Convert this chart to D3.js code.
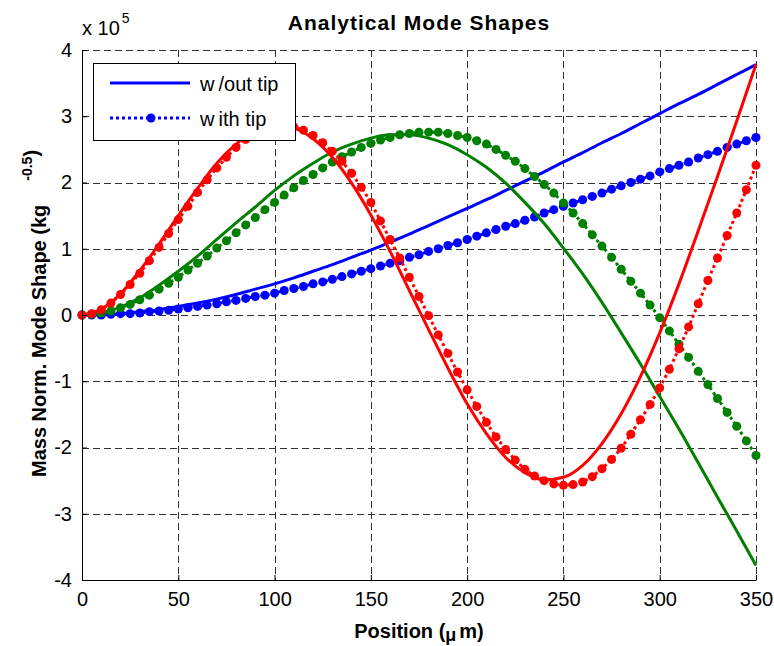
<!DOCTYPE html>
<html>
<head>
<meta charset="utf-8">
<script src="https://cdnjs.cloudflare.com/ajax/libs/d3/7.8.5/d3.min.js"></script>
<style>
  body { margin: 0; background: #fff; }
  svg { display: block; font-family: Arial, "Liberation Sans", Helvetica, sans-serif; }
</style>
</head>
<body>
<svg id="chart" width="774" height="646"></svg>
<script>
'use strict';

// sample positions along the beam (um)
var posLine = d3.range(0, 351, 10);
var posDot = d3.range(0, 351, 5);

// mass normalized mode shapes, x 1e5 kg^-0.5
// without tip: sampled every 10 um
var mode1Free = [0, 0.01, 0.02, 0.05, 0.08, 0.13, 0.18, 0.24, 0.31, 0.39, 0.47, 0.56, 0.66, 0.76, 0.87,
                 0.98, 1.10, 1.22, 1.35, 1.48, 1.61, 1.74, 1.88, 2.02, 2.16, 2.31, 2.45, 2.60, 2.74, 2.89,
                 3.04, 3.19, 3.33, 3.48, 3.63, 3.78];
var mode2Free = [0, 0.03, 0.12, 0.26, 0.45, 0.66, 0.89, 1.14, 1.39, 1.63, 1.88, 2.10, 2.29, 2.46, 2.58,
                 2.67, 2.72, 2.72, 2.67, 2.57, 2.42, 2.23, 1.99, 1.70, 1.38, 1.01, 0.62, 0.19, -0.27, -0.74,
                 -1.23, -1.72, -2.23, -2.75, -3.26, -3.78];
var mode3Free = [0, 0.09, 0.32, 0.67, 1.07, 1.50, 1.91, 2.29, 2.58, 2.78, 2.86, 2.82, 2.66, 2.38, 1.99,
                 1.51, 0.96, 0.37, -0.22, -0.80, -1.34, -1.79, -2.15, -2.38, -2.49, -2.45, -2.27, -1.94, -1.49, -0.93,
                 -0.27, 0.47, 1.27, 2.09, 2.93, 3.78];

// with tip: sampled every 5 um
var mode1Tip = [0, 0.00, 0.00, 0.01, 0.02, 0.02, 0.03, 0.05, 0.06, 0.07,
                0.09, 0.11, 0.13, 0.15, 0.17, 0.20, 0.22, 0.25, 0.28, 0.30,
                0.33, 0.37, 0.40, 0.43, 0.47, 0.50, 0.54, 0.58, 0.62, 0.66,
                0.70, 0.74, 0.78, 0.82, 0.87, 0.91, 0.96, 1.00, 1.05, 1.09,
                1.14, 1.19, 1.24, 1.29, 1.34, 1.38, 1.43, 1.48, 1.54, 1.59,
                1.64, 1.69, 1.74, 1.79, 1.84, 1.90, 1.95, 2.00, 2.05, 2.10,
                2.16, 2.21, 2.26, 2.31, 2.37, 2.42, 2.47, 2.53, 2.58, 2.63,
                2.68];
var mode2Tip = [0, 0.01, 0.03, 0.06, 0.11, 0.16, 0.23, 0.30, 0.39, 0.48,
                0.57, 0.68, 0.78, 0.89, 1.01, 1.12, 1.24, 1.36, 1.47, 1.59,
                1.70, 1.81, 1.92, 2.03, 2.12, 2.22, 2.31, 2.39, 2.46, 2.53,
                2.59, 2.64, 2.68, 2.72, 2.74, 2.76, 2.76, 2.76, 2.74, 2.71,
                2.68, 2.63, 2.58, 2.50, 2.41, 2.32, 2.21, 2.09, 1.97, 1.84,
                1.69, 1.54, 1.38, 1.21, 1.04, 0.87, 0.69, 0.51, 0.33, 0.15,
                -0.04, -0.24, -0.44, -0.64, -0.85, -1.05, -1.26, -1.47, -1.68, -1.90,
                -2.12];
var mode3Tip = [0, 0.02, 0.08, 0.18, 0.31, 0.46, 0.63, 0.82, 1.02, 1.23,
                1.44, 1.64, 1.85, 2.04, 2.22, 2.38, 2.53, 2.65, 2.74, 2.80,
                2.84, 2.85, 2.84, 2.79, 2.71, 2.60, 2.47, 2.32, 2.14, 1.93,
                1.70, 1.42, 1.14, 0.86, 0.57, 0.28, -0.01, -0.30, -0.58, -0.86,
                -1.13, -1.38, -1.62, -1.84, -2.03, -2.19, -2.33, -2.43, -2.50, -2.55,
                -2.57, -2.56, -2.52, -2.44, -2.32, -2.18, -2.01, -1.80, -1.58, -1.35,
                -1.10, -0.82, -0.51, -0.18, 0.17, 0.52, 0.86, 1.20, 1.54, 1.89,
                2.26];

var xTicks = [0, 50, 100, 150, 200, 250, 300, 350];
var yTicks = [-4, -3, -2, -1, 0, 1, 2, 3, 4];
var legendLabels = ["w/out tip", "with tip"];

var colors = {
    mode1: "#0000ff",
    mode2: "#008000",
    mode3: "#ff0000"
};

var plot = { left: 82, right: 756, top: 50, bottom: 580 };

var svg = d3.select("#chart");

var x = d3.scaleLinear().domain([0, 350]).range([plot.left, plot.right]);
var y = d3.scaleLinear().domain([-4, 4]).range([plot.bottom, plot.top]);

// grid (dashed, box off so top/right are just grid lines)
var grid = svg.append("g")
    .attr("stroke", "#333")
    .attr("stroke-width", 1)
    .attr("stroke-dasharray", "7,4")
    .attr("shape-rendering", "crispEdges");

grid.selectAll("line.vgrid")
    .data(xTicks.filter(function(d) { return d !== 0; }))
    .enter().append("line")
    .attr("class", "vgrid")
    .attr("x1", function(d) { return Math.round(x(d)) + 0.5; })
    .attr("x2", function(d) { return Math.round(x(d)) + 0.5; })
    .attr("y1", plot.top)
    .attr("y2", plot.bottom);

grid.selectAll("line.hgrid")
    .data(yTicks.filter(function(d) { return d !== -4; }))
    .enter().append("line")
    .attr("class", "hgrid")
    .attr("x1", plot.left)
    .attr("x2", plot.right)
    .attr("y1", function(d) { return Math.round(y(d)) + 0.5; })
    .attr("y2", function(d) { return Math.round(y(d)) + 0.5; });

// series
var lineGen = d3.line()
    .x(function(d) { return x(d[0]); })
    .y(function(d) { return y(d[1]); });

var smoothGen = d3.line()
    .x(function(d) { return x(d[0]); })
    .y(function(d) { return y(d[1]); })
    .curve(d3.curveMonotoneX);

function drawFree(values, color) {
    var pts = posLine.map(function(p, i) { return [p, values[i]]; });
    svg.append("path")
        .datum(pts)
        .attr("fill", "none")
        .attr("stroke", color)
        .attr("stroke-width", 3)
        .attr("stroke-linejoin", "round")
        .attr("d", smoothGen);
}

function drawTip(values, color) {
    var pts = posDot.map(function(p, i) { return [p, values[i]]; });
    svg.append("path")
        .datum(pts)
        .attr("fill", "none")
        .attr("stroke", color)
        .attr("stroke-width", 3)
        .attr("stroke-dasharray", "3,3")
        .attr("d", lineGen);
    svg.append("g").selectAll("circle")
        .data(pts)
        .enter().append("circle")
        .attr("cx", function(d) { return x(d[0]); })
        .attr("cy", function(d) { return y(d[1]); })
        .attr("r", 4.5)
        .attr("fill", color);
}

drawFree(mode1Free, colors.mode1);
drawTip(mode1Tip, colors.mode1);
drawFree(mode2Free, colors.mode2);
drawTip(mode2Tip, colors.mode2);
drawFree(mode3Free, colors.mode3);
drawTip(mode3Tip, colors.mode3);

// axes (ticks point inward)
var yAxis = d3.axisLeft(y)
    .tickValues(yTicks)
    .tickFormat(d3.format("d"))
    .tickSizeInner(-5)
    .tickSizeOuter(0)
    .tickPadding(10);

var xAxis = d3.axisBottom(x)
    .tickValues(xTicks)
    .tickFormat(d3.format("d"))
    .tickSizeInner(-5)
    .tickSizeOuter(0)
    .tickPadding(12);

var gy = svg.append("g")
    .attr("transform", "translate(" + plot.left + ",0)")
    .call(yAxis);

var gx = svg.append("g")
    .attr("transform", "translate(0," + plot.bottom + ")")
    .call(xAxis);

[gx, gy].forEach(function(g) {
    g.attr("font-family", null).attr("font-size", null);
    g.select(".domain").attr("stroke", "#000").attr("stroke-width", 1);
    g.selectAll(".tick line").attr("stroke", "#000");
    g.selectAll(".tick text")
        .attr("fill", "#000")
        .style("font-size", "20px")
        .style("font-family", "Arial, 'Liberation Sans', Helvetica, sans-serif");
});
// minus sign as plain hyphen like the original
gy.selectAll(".tick text").text(function(d) { return String(d); });

// exponent label
var expo = svg.append("text")
    .attr("x", 82)
    .attr("y", 35)
    .style("font-size", "20px")
    .text("x 10");
expo.append("tspan")
    .attr("dx", 2)
    .attr("dy", -12)
    .style("font-size", "14px")
    .text("5");

// title
svg.append("text")
    .attr("x", (plot.left + plot.right) / 2)
    .attr("y", 30)
    .attr("text-anchor", "middle")
    .style("font-size", "21px")
    .style("font-weight", "bold")
    .style("letter-spacing", "1px")
    .text("Analytical Mode Shapes");

// x label
var xl = svg.append("text")
    .attr("x", (plot.left + plot.right) / 2)
    .attr("y", 638)
    .attr("text-anchor", "middle")
    .style("font-size", "20px")
    .style("font-weight", "bold");
xl.append("tspan").text("Position (");
xl.append("tspan").attr("dy", 3).style("font-size", "18px").text("\u03bc");
xl.append("tspan").attr("dy", -3).attr("dx", 3).text("m)");

// y label
var yl = svg.append("text")
    .attr("transform", "translate(46,477) rotate(-90)")
    .style("font-size", "20px")
    .style("font-weight", "bold");
yl.append("tspan").text("Mass Norm. Mode Shape (kg");
yl.append("tspan").attr("dx", 24).attr("dy", -14).style("font-size", "14px").text("-0.5");
yl.append("tspan").attr("dy", 6).text(")");

// legend
var legend = svg.append("g");
legend.append("rect")
    .attr("x", 93.5)
    .attr("y", 63.5)
    .attr("width", 202)
    .attr("height", 77)
    .attr("fill", "#fff")
    .attr("stroke", "#000")
    .attr("stroke-width", 1);

legend.append("line")
    .attr("x1", 110).attr("x2", 190)
    .attr("y1", 83).attr("y2", 83)
    .attr("stroke", colors.mode1)
    .attr("stroke-width", 3);

legend.append("line")
    .attr("x1", 110).attr("x2", 190)
    .attr("y1", 118).attr("y2", 118)
    .attr("stroke", colors.mode1)
    .attr("stroke-width", 3)
    .attr("stroke-dasharray", "3,3");

legend.append("circle")
    .attr("cx", 151).attr("cy", 118)
    .attr("r", 4.5)
    .attr("fill", colors.mode1);

legend.selectAll("text.lab")
    .data(legendLabels)
    .enter().append("text")
    .attr("class", "lab")
    .attr("x", 200)
    .attr("y", function(d, i) { return 91 + i * 35; })
    .style("font-size", "20px")
    .each(function(d) {
        var t = d3.select(this);
        t.append("tspan").text(d.charAt(0));
        t.append("tspan").attr("dx", 4).text(d.slice(1));
    });
</script>
</body>
</html>
